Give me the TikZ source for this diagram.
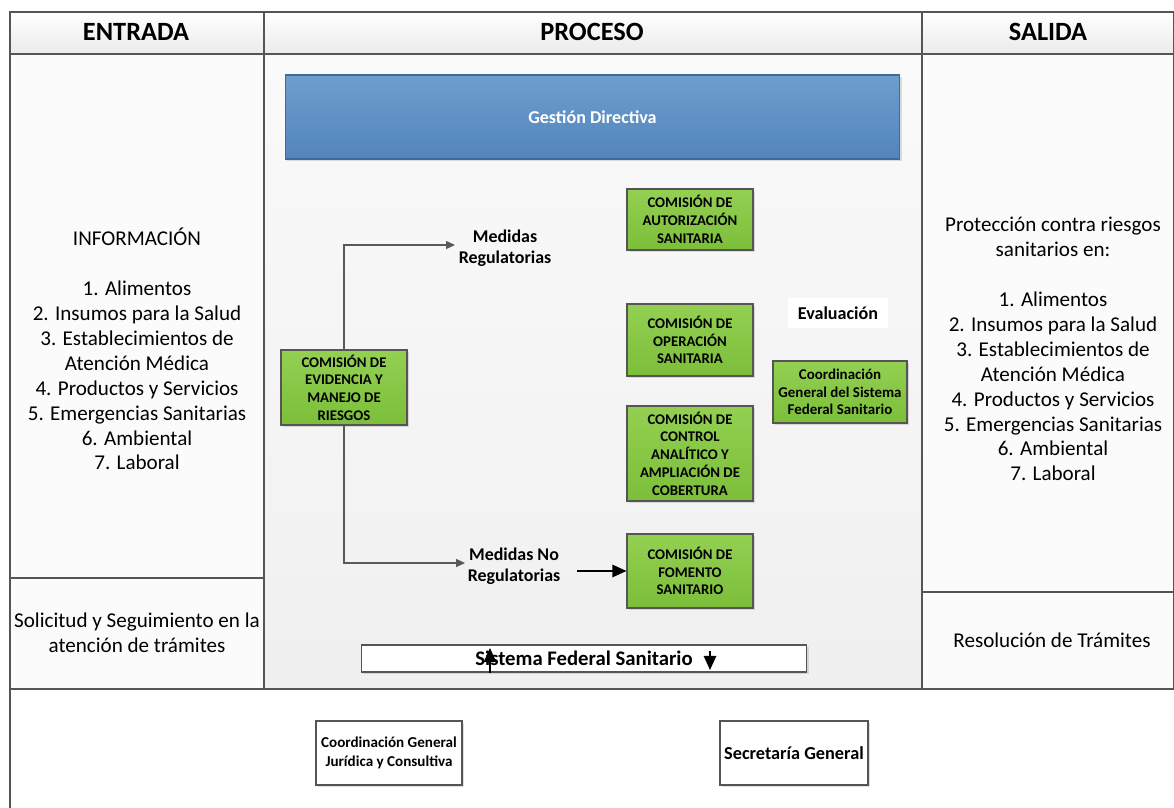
\documentclass[tikz,border=0pt]{standalone}
\usepackage{fontspec}
\setmainfont{Carlito}
\usetikzlibrary{arrows.meta,shadows}
\definecolor{borde}{HTML}{555555}
\definecolor{verdea}{HTML}{93D052}
\definecolor{verdeb}{HTML}{7CBE3A}
\definecolor{azula}{HTML}{6D9ECE}
\definecolor{azulb}{HTML}{5285BC}
\definecolor{azulborde}{HTML}{3E6B9A}
\begin{document}
\begin{tikzpicture}[x=0.02cm,y=-0.02cm,
 celda/.style={draw=borde,line width=0.6pt},
 cabecera/.style={font=\bfseries\fontsize{15}{18}\selectfont},
 texto/.style={align=center,font=\fontsize{12}{14.2}\selectfont},
 comision/.style={draw=borde,line width=0.6pt,top color=verdea,bottom color=verdeb,align=center,inner sep=1pt,
   font=\bfseries\fontsize{8.4}{10.1}\selectfont,drop shadow={shadow xshift=1.2pt,shadow yshift=-1.2pt,opacity=0.25}},
 caja/.style={draw=borde,line width=0.6pt,fill=white,align=center,inner sep=1pt,
   drop shadow={shadow xshift=1.2pt,shadow yshift=-1.2pt,opacity=0.25}},
 medida/.style={align=center,font=\bfseries\fontsize{10.2}{12}\selectfont},
 conector/.style={draw=black!65,line width=0.6pt,-{Triangle[length=5pt,width=4.5pt]}},
 flechanegra/.style={line width=1.1pt,-{Triangle[length=8pt,width=7pt]}}]
\useasboundingbox (0,0) rectangle (1174,808);
% tabla
\draw[celda,top color=white,bottom color=black!8] (10,12) rectangle (264,54);
\draw[celda,top color=white,bottom color=black!8] (264,12) rectangle (922,54);
\draw[celda,top color=white,bottom color=black!8] (922,12) rectangle (1174,54);
\draw[celda,fill=black!1.5] (10,54) rectangle (264,578);
\draw[celda,fill=black!1.5] (10,578) rectangle (264,689);
\draw[celda,top color=black!2,bottom color=black!6] (264,54) rectangle (922,689);
\draw[celda,fill=black!1.5] (922,54) rectangle (1174,592);
\draw[celda,fill=black!1.5] (922,592) rectangle (1174,689);
\draw[celda] (10,689) -- (10,808);
\node[cabecera] (entrada) at (136,32) {ENTRADA};
\node[cabecera] (proceso) at (592,32) {PROCESO};
\node[cabecera] (salida) at (1048,32) {SALIDA};
% entrada y salida
\node[texto] (informacion) at (137,349) {INFORMACIÓN\\[14.2pt] 1. Alimentos\\ 2. Insumos para la Salud\\ 3. Establecimientos de\\ Atención Médica\\ 4. Productos y Servicios\\ 5. Emergencias Sanitarias\\ 6. Ambiental\\ 7. Laboral};
\node[texto] (solicitud) at (137,633) {Solicitud y Seguimiento en la\\ atención de trámites};
\node[texto] (proteccion) at (1053,349) {Protección contra riesgos\\ sanitarios en:\\[14.2pt] 1. Alimentos\\ 2. Insumos para la Salud\\ 3. Establecimientos de\\ Atención Médica\\ 4. Productos y Servicios\\ 5. Emergencias Sanitarias\\ 6. Ambiental\\ 7. Laboral};
\node[texto] (resolucion) at (1052,640) {Resolución de Trámites};
% proceso
\node[draw=azulborde,line width=0.6pt,top color=azula,bottom color=azulb,minimum width=12.3cm,minimum height=1.68cm,
  text=white,font=\bfseries\fontsize{10.3}{12}\selectfont,drop shadow={shadow xshift=1.2pt,shadow yshift=-1.2pt,opacity=0.25}]
  (gestion) at (592.5,117) {Gestión Directiva};
\node[comision,minimum width=2.52cm,minimum height=1.22cm] (autorizacion) at (690,219.5) {COMISIÓN DE\\ AUTORIZACIÓN\\ SANITARIA};
\node[comision,minimum width=2.52cm,minimum height=1.44cm] (operacion) at (690,340) {COMISIÓN DE\\ OPERACIÓN\\ SANITARIA};
\node[comision,minimum width=2.52cm,minimum height=1.9cm] (control) at (690,453.5) {COMISIÓN DE\\ CONTROL\\ ANALÍTICO Y\\ AMPLIACIÓN DE\\ COBERTURA};
\node[comision,minimum width=2.52cm,minimum height=1.48cm] (fomento) at (690,571) {COMISIÓN DE\\ FOMENTO\\ SANITARIO};
\node[comision,minimum width=2.52cm,minimum height=1.5cm] (evidencia) at (344,387.5) {COMISIÓN DE\\ EVIDENCIA Y\\ MANEJO DE\\ RIESGOS};
\node[comision,minimum width=2.68cm,minimum height=1.24cm,font=\bfseries\fontsize{8.5}{10.1}\selectfont] (coordinacion) at (840,392) {Coordinación\\ General del Sistema\\ Federal Sanitario};
\node[fill=white,minimum width=2cm,minimum height=0.6cm,font=\bfseries\fontsize{10.3}{12}\selectfont] (evaluacion) at (838,313) {Evaluación};
\node[medida] (medreg) at (505,248) {Medidas\\ Regulatorias};
\node[medida] (mednoreg) at (514,566) {Medidas No\\ Regulatorias};
\node[caja,minimum width=8.92cm,minimum height=0.54cm,font=\bfseries\fontsize{11.8}{13}\selectfont] (sistema) at (584,658.5) {Sistema Federal Sanitario};
% abajo
\node[caja,minimum width=2.92cm,minimum height=1.28cm,font=\bfseries\fontsize{8.6}{10.5}\selectfont] (juridica) at (389,753) {Coordinación General\\ Jurídica y Consultiva};
\node[caja,minimum width=2.96cm,minimum height=1.28cm,font=\bfseries\fontsize{10.4}{12}\selectfont] (secretaria) at (794,753) {Secretaría General};
% conectores
\coordinate (finreg) at (455,245);
\coordinate (finnoreg) at (465,563);
\draw[conector] (evidencia.north) |- (finreg);
\draw[conector] (evidencia.south) |- (finnoreg);
\draw[flechanegra,shorten <=6pt] (mednoreg.east |- fomento.west) -- (fomento.west);
\coordinate (subida) at (490,648);
\coordinate (bajadaini) at (710,651);
\coordinate (bajada) at (710,670);
\draw[flechanegra] (sistema.south -| subida) -- (subida);
\draw[flechanegra] (bajadaini) -- (bajada);
\end{tikzpicture}
\end{document}
